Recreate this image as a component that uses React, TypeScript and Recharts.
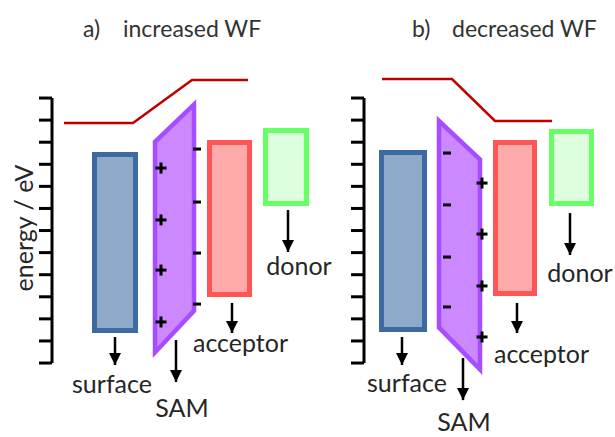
import React from 'react';
import { ComposedChart, XAxis, YAxis, ReferenceArea, ReferenceLine, Line, Scatter } from 'recharts';

// energy axis (tick levels, arbitrary units)
const energyTicks = [0, 1, 2, 3, 4, 5, 6, 7, 8, 9, 10, 11, 12];
const energyDomain = [-3.35, 16.44];
const axisSpan = [0, 12];

// ---------- panel a: increased WF ----------
const wfA = [
  { x: 12, e: 10.87 },
  { x: 81, e: 10.87 },
  { x: 140, e: 12.82 },
  { x: 196, e: 12.82 },
];
const bandsA = [
  { name: 'surface', x1: 42.5, x2: 83.5, top: 9.44, bottom: 1.47, fill: '#8eaac8', stroke: '#3d6aa3' },
  { name: 'acceptor', x1: 157.5, x2: 197.5, top: 9.99, bottom: 3.1, fill: '#ffaaaa', stroke: '#ff5555' },
  { name: 'donor', x1: 213.5, x2: 254.5, top: 10.53, bottom: 7.22, fill: '#ddffdd', stroke: '#66ff66' },
];
const samA = { xl: 103, xr: 142, lt: 10.01, rt: 11.71, lb: 0.48, rb: 2.36 };
const plusA = [
  { x: 109, e: 8.83 },
  { x: 109, e: 6.48 },
  { x: 109, e: 4.21 },
  { x: 109, e: 1.86 },
];
const minusA = [
  { x: 145, e: 9.69 },
  { x: 145, e: 7.29 },
  { x: 145, e: 4.98 },
  { x: 145, e: 2.67 },
];
const arrowsA = [
  { x: 63, from: 1.18, to: -0.09 },
  { x: 124, from: 1.04, to: -0.86 },
  { x: 180, from: 2.72, to: 1.36 },
  { x: 236, from: 6.93, to: 5.03 },
];
const labelsA = [
  { x: 60, e: -1.36, label: 'surface' },
  { x: 130, e: -2.45, label: 'SAM' },
  { x: 188.5, e: 0.5, label: 'acceptor' },
  { x: 247, e: 3.99, label: 'donor' },
];

// ---------- panel b: decreased WF ----------
const wfB = [
  { x: 18, e: 12.86 },
  { x: 88, e: 12.86 },
  { x: 131, e: 10.96 },
  { x: 188, e: 10.96 },
];
const bandsB = [
  { name: 'surface', x1: 17.5, x2: 60.5, top: 9.53, bottom: 1.52, fill: '#8eaac8', stroke: '#3d6aa3' },
  { name: 'acceptor', x1: 131.5, x2: 170.5, top: 9.99, bottom: 3.15, fill: '#ffaaaa', stroke: '#ff5555' },
  { name: 'donor', x1: 187.5, x2: 227.5, top: 10.48, bottom: 7.22, fill: '#ddffdd', stroke: '#66ff66' },
];
const samB = { xl: 75, xr: 116, lt: 10.96, rt: 9.22, lb: 1.61, rb: -0.29 };
const plusB = [
  { x: 118, e: 8.15 },
  { x: 118, e: 5.84 },
  { x: 118, e: 3.49 },
  { x: 118, e: 1.18 },
];
const minusB = [
  { x: 83, e: 9.51 },
  { x: 83, e: 7.16 },
  { x: 83, e: 4.8 },
  { x: 83, e: 2.54 },
];
const arrowsB = [
  { x: 38, from: 1.18, to: -0.09 },
  { x: 99, from: 0.23, to: -1.68 },
  { x: 153, from: 2.72, to: 1.36 },
  { x: 206, from: 6.79, to: 4.89 },
];
const labelsB = [
  { x: 43, e: -1.31, label: 'surface' },
  { x: 100, e: -3.06, label: 'SAM' },
  { x: 177.5, e: 0, label: 'acceptor' },
  { x: 216, e: 3.67, label: 'donor' },
];

const titles = [
  { tag: 'a)', text: 'increased WF', tagX: 83, textX: 123 },
  { tag: 'b)', text: 'decreased WF', tagX: 412, textX: 452 },
];

const FONT = 'Lato, "Open Sans", sans-serif';
const AXIS_W = 52;

const samShape = (sam: any) => (p: any) => {
  const top = Math.min(p.y, p.y + p.height);
  const h = Math.abs(p.height);
  const left = Math.min(p.x, p.x + p.width);
  const w = Math.abs(p.width);
  const eMax = Math.max(sam.lt, sam.rt);
  const eMin = Math.min(sam.lb, sam.rb);
  const py = (e: number) => top + ((eMax - e) / (eMax - eMin)) * h;
  const pts = [
    [left, py(sam.lt)],
    [left + w, py(sam.rt)],
    [left + w, py(sam.rb)],
    [left, py(sam.lb)],
  ]
    .map((q) => q.join(','))
    .join(' ');
  return <polygon points={pts} fill="#cc88ff" stroke="#a64dff" strokeWidth={4.5} strokeLinejoin="miter" />;
};

const plusShape = (p: any) => (
  <g>
    <line x1={p.cx - 5.5} x2={p.cx + 5.5} y1={p.cy} y2={p.cy} stroke="#000" strokeWidth={3} />
    <line x1={p.cx} x2={p.cx} y1={p.cy - 5.5} y2={p.cy + 5.5} stroke="#000" strokeWidth={3} />
  </g>
);
const minusShape = (p: any) => (
  <line x1={p.cx - 4} x2={p.cx + 4} y1={p.cy} y2={p.cy} stroke="#000" strokeWidth={3} />
);
const labelShape = (p: any) => (
  <text x={p.cx} y={p.cy} textAnchor="middle" fontFamily={FONT} fontSize={25} fill="#262626">
    {p.payload.label}
  </text>
);
const arrowDot = (p: any) =>
  p.index === 1 ? (
    <polygon key={`h${p.index}`} points={`${p.cx - 6},${p.cy - 12} ${p.cx + 6},${p.cy - 12} ${p.cx},${p.cy}`} fill="#000" />
  ) : (
    <g key={`t${p.index}`} />
  );
const emptyTick = (p: any) => <g key={`tk${p.index}`} />;

function Panel(props: any) {
  const { left, width, wf, bands, sam, plus, minus, arrows, labels, yLabel } = props;
  const plotW = width - AXIS_W;
  return (
    <div style={{ position: 'absolute', left, top: 0 }}>
      <ComposedChart width={width} height={437} margin={{ top: 0, right: 0, bottom: 0, left: 0 }}>
        <XAxis type="number" dataKey="x" domain={[0, plotW]} hide />
        <YAxis
          type="number"
          dataKey="e"
          domain={energyDomain}
          ticks={energyTicks}
          interval={0}
          width={AXIS_W}
          axisLine={false}
          tick={emptyTick}
          tickSize={13}
          tickLine={{ stroke: '#000', strokeWidth: 3 }}
          label={
            yLabel
              ? {
                  content: () => (
                    <text
                      x={33}
                      y={228}
                      transform="rotate(-90 33 228)"
                      textAnchor="middle"
                      fontFamily={FONT}
                      fontSize={25}
                      fill="#262626"
                    >
                      energy / eV
                    </text>
                  ),
                }
              : undefined
          }
        />
        <ReferenceLine
          segment={[
            { x: 0, y: axisSpan[0] },
            { x: 0, y: axisSpan[1] },
          ]}
          stroke="#000"
          strokeWidth={3}
          ifOverflow="visible"
        />
        <Line data={wf} dataKey="e" stroke="#c00000" strokeWidth={2.5} dot={false} isAnimationActive={false} />
        {bands.map((b: any) => (
          <ReferenceArea
            key={b.name}
            x1={b.x1}
            x2={b.x2}
            y1={b.bottom}
            y2={b.top}
            fill={b.fill}
            fillOpacity={1}
            stroke={b.stroke}
            strokeWidth={5}
            ifOverflow="visible"
          />
        ))}
        <ReferenceArea
          x1={sam.xl}
          x2={sam.xr}
          y1={Math.min(sam.lb, sam.rb)}
          y2={Math.max(sam.lt, sam.rt)}
          ifOverflow="visible"
          shape={samShape(sam)}
        />
        <Scatter data={plus} dataKey="e" shape={plusShape} isAnimationActive={false} />
        <Scatter data={minus} dataKey="e" shape={minusShape} isAnimationActive={false} />
        {arrows.map((a: any, i: number) => (
          <Line
            key={`arrow${i}`}
            data={[
              { x: a.x, e: a.from },
              { x: a.x, e: a.to },
            ]}
            dataKey="e"
            stroke="#000"
            strokeWidth={2.5}
            dot={arrowDot}
            isAnimationActive={false}
          />
        ))}
        <Scatter data={labels} dataKey="e" shape={labelShape} isAnimationActive={false} />
      </ComposedChart>
    </div>
  );
}

export default function App() {
  return (
    <div style={{ position: 'absolute', left: 0, top: 0, width: 615, height: 437, background: '#fff', overflow: 'hidden' }}>
      <Panel left={0} width={345} wf={wfA} bands={bandsA} sam={samA} plus={plusA} minus={minusA} arrows={arrowsA} labels={labelsA} yLabel />
      <Panel left={312} width={303} wf={wfB} bands={bandsB} sam={samB} plus={plusB} minus={minusB} arrows={arrowsB} labels={labelsB} />
      <svg width={615} height={60} style={{ position: 'absolute', left: 0, top: 0 }}>
        {titles.map((t) => (
          <g key={t.tag} fontFamily={FONT} fontSize={23} fill="#333">
            <text x={t.tagX} y={37}>{t.tag}</text>
            <text x={t.textX} y={37}>{t.text}</text>
          </g>
        ))}
      </svg>
    </div>
  );
}
